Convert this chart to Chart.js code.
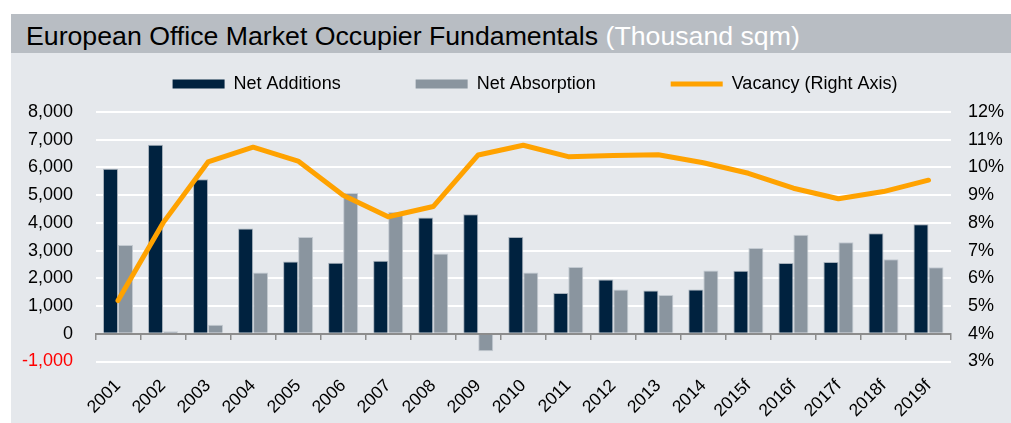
<!DOCTYPE html>
<html>
<head>
<meta charset="utf-8">
<script src="https://cdn.jsdelivr.net/npm/chart.js@4.4.0/dist/chart.umd.min.js"></script>
<style>
  html, body { margin: 0; padding: 0; background: #ffffff; overflow: hidden; }
  body { width: 1011px; height: 423px; position: relative; overflow: hidden; font-family: "Liberation Sans", Arial, sans-serif; }
  #bg { position: absolute; left: 11px; top: 53px; width: 1000px; height: 370px; background: #e5e8ec; }
  #band { position: absolute; left: 11px; top: 14px; width: 1000px; height: 36px; padding-top: 3px; background: #b8bdc3; line-height: 39px; font-size: 26.7px; white-space: nowrap; }
  #band .main { color: #000; margin-left: 15px; }
  #band .unit { color: #ffffff; }
  #c { position: absolute; left: 0; top: 0; }
</style>
</head>
<body>
<div id="bg"></div>
<div id="band"><span class="main">European Office Market Occupier Fundamentals</span> <span class="unit">(Thousand sqm)</span></div>
<canvas id="c" width="1060" height="423"></canvas>
<script>
const years = ['2001','2002','2003','2004','2005','2006','2007','2008','2009','2010','2011','2012','2013','2014','2015f','2016f','2017f','2018f','2019f'];
const netAdditions = [5950, 6820, 5570, 3800, 2610, 2560, 2630, 4190, 4310, 3490, 1470, 1960, 1560, 1600, 2270, 2550, 2590, 3630, 3950];
const netAbsorption = [3200, 90, 330, 2210, 3490, 5080, 4390, 2900, -630, 2210, 2410, 1600, 1400, 2280, 3090, 3570, 3300, 2690, 2400];
const vacancy = [5.2, 8.0, 10.2, 10.73, 10.23, 9.0, 8.22, 8.59, 10.45, 10.8, 10.39, 10.43, 10.46, 10.17, 9.79, 9.25, 8.87, 9.13, 9.54];
const leftTicks = { min: -1000, max: 8000, step: 1000 };
const rightTicks = { min: 3, max: 12, step: 1 };

const NAVY = '#00223f';
const GREY = '#8a959f';
const ORANGE = '#ffa200';
const FONT = "'Liberation Sans', Arial, sans-serif";

new Chart(document.getElementById('c'), {
  data: {
    labels: years,
    datasets: [
      { type: 'line', label: 'Vacancy (Right Axis)', data: vacancy, yAxisID: 'y1', xAxisID: 'x',
        borderColor: ORANGE, backgroundColor: ORANGE, borderWidth: 5, pointRadius: 0, tension: 0,
        borderCapStyle: 'round', borderJoinStyle: 'round', order: 0 },
      { type: 'bar', label: 'Net Additions', data: netAdditions, yAxisID: 'y', xAxisID: 'x',
        backgroundColor: NAVY, borderColor: '#a8b2bc', borderWidth: 1, order: 1,
        barPercentage: 1, categoryPercentage: 0.667 },
      { type: 'bar', label: 'Net Absorption', data: netAbsorption, yAxisID: 'y', xAxisID: 'x',
        backgroundColor: GREY, borderColor: '#c3cad1', borderWidth: 1, order: 1,
        barPercentage: 1, categoryPercentage: 0.667 }
    ]
  },
  options: {
    responsive: false,
    animation: false,
    devicePixelRatio: 1,
    layout: { padding: { top: 0, left: 10, right: 0, bottom: 0 } },
    plugins: {
      tooltip: { enabled: false },
      title: { display: true, text: '', weight: 500, padding: 0, font: { size: 8, lineHeight: '9px' } },
      legend: {
        position: 'top',
        labels: {
          usePointStyle: true,
          pointStyleWidth: 52,
          boxHeight: 9,
          padding: 75,
          color: '#000',
          font: { family: FONT, size: 18 },
          generateLabels: (chart) => {
            const ds = chart.data.datasets;
            const order = [1, 2, 0];
            return order.map(i => {
              const d = ds[i];
              const isLine = d.type === 'line';
              return {
                text: d.label,
                fillStyle: isLine ? d.borderColor : d.backgroundColor,
                strokeStyle: isLine ? d.borderColor : d.backgroundColor,
                lineWidth: isLine ? 5 : 0,
                pointStyle: isLine ? 'line' : 'rect',
                fontColor: '#000',
                hidden: false,
                datasetIndex: i
              };
            });
          }
        }
      }
    },
    scales: {
      x: {
        type: 'category',
        position: 'bottom',
        offset: true,
        afterFit: (s) => { s.height = 61.5; },
        grid: { display: false, drawTicks: false },
        border: { display: false },
        ticks: { autoSkip: false, minRotation: 45, maxRotation: 45, padding: 14, color: '#000', font: { family: FONT, size: 17.5 } }
      },
      x2: {
        type: 'category',
        position: { y: 0 },
        offset: true,
        grid: { display: true, drawOnChartArea: false, drawTicks: true, tickLength: 5, color: '#8c8c8c', lineWidth: 1.5, offset: true },
        border: { display: true, color: '#8c8c8c', width: 2 },
        ticks: { display: false }
      },
      y: {
        type: 'linear',
        position: 'left',
        min: leftTicks.min,
        max: leftTicks.max,
        afterFit: (s) => { s.width = 85.5; },
        grid: { color: (ctx) => (ctx.tick && ctx.tick.value === 0) ? 'rgba(0,0,0,0)' : '#ffffff', lineWidth: 2, drawTicks: false },
        border: { display: false },
        ticks: {
          stepSize: leftTicks.step,
          padding: 22.5,
          font: { family: FONT, size: 18 },
          color: (ctx) => (ctx.tick && ctx.tick.value < 0) ? '#ff0000' : '#000000',
          callback: (v) => Number(v).toLocaleString('en-US')
        }
      },
      y1: {
        type: 'linear',
        position: 'right',
        min: rightTicks.min,
        max: rightTicks.max,
        afterFit: (s) => { s.width = 109; },
        grid: { drawOnChartArea: false, drawTicks: false },
        border: { display: false },
        ticks: {
          stepSize: rightTicks.step,
          padding: 17,
          font: { family: FONT, size: 18 },
          color: '#000',
          callback: (v) => v + '%'
        }
      }
    }
  }
});
</script>
</body>
</html>
